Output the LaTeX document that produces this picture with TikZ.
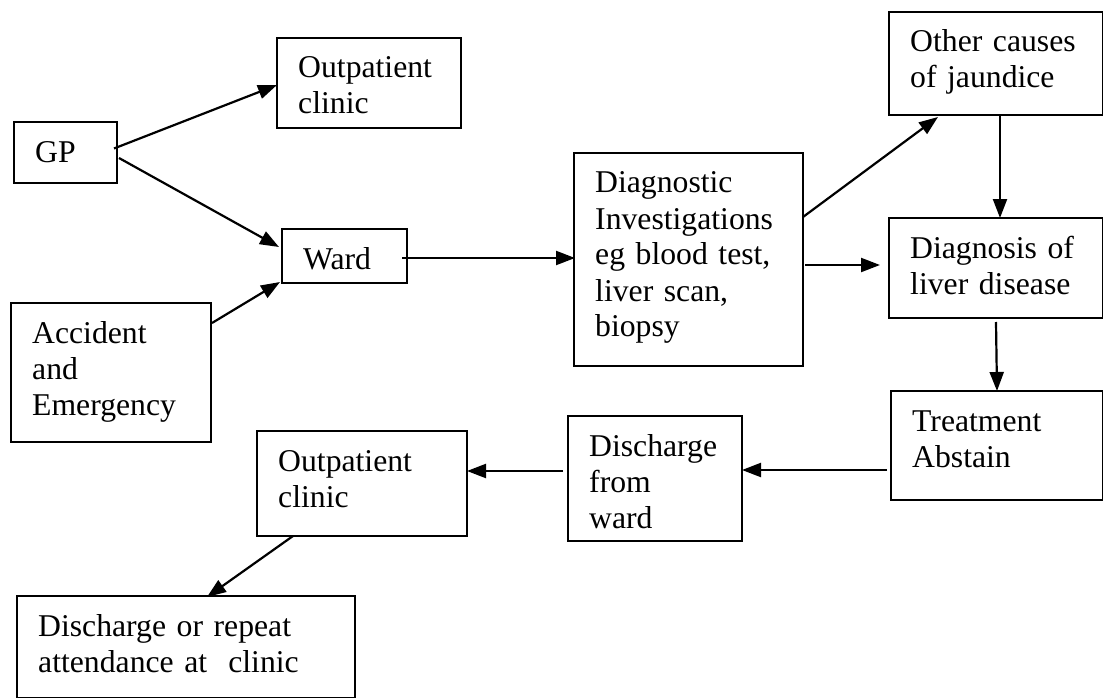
\documentclass[tikz,border=0pt]{standalone}
\usepackage{fontspec}
\setmainfont{Liberation Serif}
\usepackage{tikz}
\usetikzlibrary{arrows.meta,positioning}

\begin{document}
\begin{tikzpicture}[x=1pt,y=-1pt,
  box/.style={draw,rectangle,line width=1.6pt,inner sep=0pt,outer sep=0pt},
  txt/.style={anchor=base west,xshift=21pt,yshift=-40pt,inner sep=0pt,align=left,
    font=\fontsize{31.7}{36}\selectfont},
  arr/.style={-{Triangle[length=19pt,width=14pt]},line width=2.2pt}]
\useasboundingbox (0,0) rectangle (1103,698);

% left column
\node[box,minimum width=103pt,minimum height=61pt,
  label={[txt,text width=80pt]north west:GP}] (gp) at (65.5,152.5) {};
\node[box,minimum width=184pt,minimum height=90pt,
  label={[txt,text width=160pt]north west:{Outpatient\\clinic}}] (opd) at (369,83) {};
\node[box,minimum width=125pt,minimum height=54pt,
  label={[txt,text width=100pt]north west:Ward}] (ward) at (344.5,256) {};
\node[box,minimum width=200pt,minimum height=139pt,
  label={[txt,text width=175pt]north west:{Accident\\and\\Emergency}}] (ae) at (111,372.5) {};

% middle and right
\node[box,minimum width=229pt,minimum height=213pt,
  label={[txt,text width=205pt]north west:{Diagnostic\\Investigations\\eg blood test,\\liver scan,\\biopsy}}] (invest) at (688.5,259.5) {};
\node[box,minimum width=214pt,minimum height=103pt,
  label={[txt,text width=190pt]north west:{Other causes\\of jaundice}}] (other) at (996,63.5) {};
\node[box,minimum width=214pt,minimum height=100pt,
  label={[txt,text width=190pt]north west:{Diagnosis of\\liver disease}}] (liver) at (996,268) {};
\node[box,minimum width=212pt,minimum height=109pt,
  label={[txt,text width=190pt]north west:{Treatment\\Abstain}}] (treat) at (997,445.5) {};

% bottom row
\node[box,minimum width=174pt,minimum height=125pt,
  label={[txt,text width=150pt]north west:{Discharge\\from\\ward}}] (disch) at (655,478.5) {};
\node[box,minimum width=210pt,minimum height=105pt,
  label={[txt,text width=185pt]north west:{Outpatient\\clinic}}] (clinic) at (362,483.5) {};
\node[box,minimum width=338pt,minimum height=102pt,
  label={[txt,text width=315pt]north west:{Discharge or repeat\\attendance at\ \ clinic}}] (final) at (186,647) {};

\draw[arr] ([shift={(-3,-4)}]gp.east) -- ([shift={(0,2)}]opd.west);
\draw[arr] ([shift={(2,5.5)}]gp.east) -- ([shift={(-3,-9)}]ward.west);
\draw[arr] ([shift={(1,20)}]ae.north east) -- ([shift={(-2,-1)}]ward.south west);
\draw[arr] ([shift={(-5,2)}]ward.east) -- ([shift={(1,-1.5)}]invest.west);
\draw[arr] ([shift={(0,-42.5)}]invest.east) -- ([shift={(-58,2)}]other.south);
\draw[arr] ([shift={(2,5.5)}]invest.east) -- ([shift={(-9,-3)}]liver.west);
\draw[arr] ([shift={(4,0)}]other.south) -- ([shift={(4,0)}]liver.north);
\draw[arr] ([shift={(0,4)}]liver.south) -- (treat.north);
\draw[arr] ([shift={(-4,24.5)}]treat.west) -- ([shift={(0,-8.5)}]disch.east);
\draw[arr] ([shift={(-5,-7.5)}]disch.west) -- ([shift={(0,-12.5)}]clinic.east);
\draw[arr] ([shift={(-69,0)}]clinic.south) -- ([shift={(21,1)}]final.north);
\end{tikzpicture}
\end{document}
